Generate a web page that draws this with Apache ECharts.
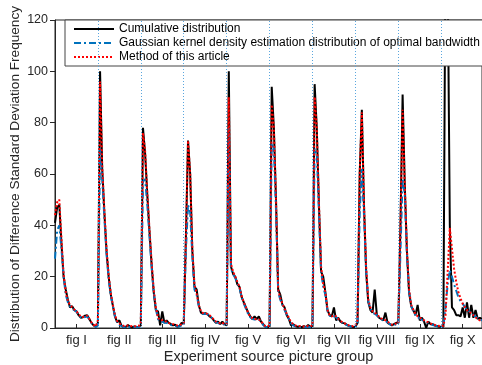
<!DOCTYPE html>
<html>
<head>
<meta charset="utf-8">
<script src="https://cdn.jsdelivr.net/npm/echarts@6/dist/echarts.min.js"></script>
<style>html,body{margin:0;padding:0;background:#fff}#c{width:482px;height:365px}</style>
</head>
<body>
<div id="c"></div>
<script>
var groupLabels = ['fig I','fig II','fig III','fig IV','fig V','fig VI','fig VII','fig VIII','fig IX','fig X'];
var pointsPerGroup = 20;
var yTicks = [0, 20, 40, 60, 80, 100, 120];
var seriesNames = ['Cumulative distribution','Gaussian kernel density estimation distribution of optimal bandwidth','Method of this article'];

var cumulative = [
  41,47,48,33,20,15,11,8,8.5,7,6.5,5,4,4.2,4.8,5,3.5,2,1,0.5,
  2,100,62,45,30,20,13,8.5,4.3,2.2,3,0.8,0.3,0.5,1.2,0.5,0.3,0.6,0.4,0.5,
  1,78,68,52,38,25,14,7,6.5,1,6.5,2,3,2,1.5,1,1.3,0.5,0.8,2,
  1.5,35,73,60,30,16,15,9,6,5.5,5.8,5.5,4.5,4,3,2,2.5,1.5,2.5,1.5,
  1,100,24,21,20,17,16,12,10,8,6,4.5,3.5,4.5,3.5,4.5,2.5,1.5,0.5,0.3,
  0.5,94,78,50,15,13,9,8,5,3.5,1,1.5,0.8,0.5,0.6,0.3,0.7,0.3,1.2,0.4,
  0.5,95,78,48,22,20,14,7,5,4.5,8,3,4,2.5,2,1.8,1.2,0.8,0.6,0.4,
  0.5,2,60,85,48,22,10,7,6,15,5,4,3.5,3,6,2,1.5,1,1.5,2,
  2,40,91,56,30,14,8.5,7,5,9,3,4,2.5,0,2.5,1.5,1.5,1,0.8,0.5,
  0.5,0.5,150,140,40,8,7,5,5,4.5,8,4,10,4,9,4,7,3.5,4,3.5
];
var gaussianKDE = [
  27,38,40,31,20,13,10,8.5,7.5,7,6.3,5.3,4.2,4,4.3,4.5,3.3,2,1,0.4,
  1,70,58,43,29,19,12.5,8.5,4.3,2.2,1.2,0.8,0.4,0.3,0.6,0.3,0.3,0.4,0.3,0.4,
  1,57,58,48,36,24,14,7.5,3.5,2.5,2.5,2,2,1.5,1.2,1,0.8,0.6,0.6,1,
  1,30,48,45,28,15,13,8.5,6,5.5,5.5,5.3,4.8,4,3,2.2,2,1.5,1.8,1.2,
  0.8,78,23,21,19.5,17.5,15.5,12,9.5,7.5,5.5,4.2,3.5,3.3,3.2,3.2,2.5,1.2,0.5,0.4,
  0.5,72,70,46,14,11,9,7,5.2,3.5,1.8,1,0.6,0.5,0.4,0.3,0.4,0.3,0.5,0.3,
  0.5,70,68,45,22,16,13,6.5,4.8,4.3,4.6,4.2,3.2,2.5,2,1.5,1.1,0.8,0.5,0.4,
  0.5,1.5,45,62,44,22,10.5,7.5,6,5.5,5,4.2,3.5,3,2.7,2.2,1.5,1,1,1.5,
  1.5,30,58,52,29,14,8.5,6.5,5,4.2,3.8,3.2,2.8,2.3,2,1.5,1.2,1,0.7,0.5,
  0.5,0.5,8,17,22.5,20,17,14.5,12,10.5,9.5,8.2,7,6.5,6,5,4.5,3.8,3.2,3
];
var methodArticle = [
  44,49,50,35,21,14,10.5,9,8,7.2,6.5,5.5,4.5,4.3,4.5,4.8,3.5,2.2,1.2,0.6,
  3,96,63,46,31,20.5,13.5,9,4.8,2.6,1.8,1.2,0.8,0.7,1,0.8,0.7,0.7,0.6,0.8,
  2,76,69,53,39,26,15,8,4,3,3,2.5,2.5,2,1.8,1.5,1.2,1,1,1.5,
  2,35,73,60,31,17,13.5,9,6.5,5.8,5.7,5.5,5,4.2,3.3,2.5,2.2,1.8,2,1.5,
  1.5,90,25,22,20,18,16,12.5,10,8,6,4.5,3.8,3.5,3.4,3.3,2.8,1.5,0.8,0.6,
  1,87,78,50,15,11.5,9.5,7.5,5.5,4,2.2,1.5,1,0.8,0.7,0.6,0.6,0.5,0.8,0.7,
  1,90,78,49,24,17,14,7,5,4.5,5,4.5,3.5,2.8,2.2,1.8,1.4,1,0.8,0.7,
  1,3,60,84,48,24,11,8,6.5,6,5.2,4.5,3.8,3.3,3,2.5,1.8,1.3,1.3,1.8,
  2,40,85,56,31,15,9,7,5.5,4.5,4,3.5,3,2.5,2.2,1.8,1.5,1.2,1,0.8,
  1,0.8,5,22,39,31,23,18,14,11.5,9.5,8.2,7,6.3,5.8,5,4.2,3.5,3,2.8
];

var categories = [];
for (var i = 0; i < cumulative.length; i++) categories.push(String(i));
var boundaries = [];
for (var g = 1; g < groupLabels.length; g++) boundaries.push({ xAxis: String(g * pointsPerGroup) });

var FONT = 'Liberation Sans, Arial, sans-serif';
var TXT = '#262626';
var half = pointsPerGroup / 2;

var chart = echarts.init(document.getElementById('c'), null, { renderer: 'canvas' });
chart.setOption({
  animation: false,
  backgroundColor: '#fff',
  textStyle: { fontFamily: FONT },
  grid: { left: 55, right: 0, top: 20, bottom: 37, containLabel: false, outerBoundsMode: 'none',
    show: true, borderColor: TXT, borderWidth: 1, backgroundColor: 'transparent' },
  legend: {
    orient: 'vertical', left: 65, top: 20,
    itemWidth: 40, itemHeight: 12, itemGap: 2,
    padding: [3, 5, 3, 8],
    backgroundColor: '#fff', borderColor: '#444', borderWidth: 1,
    itemStyle: { opacity: 0, borderWidth: 0 },
    textStyle: { fontFamily: FONT, fontSize: 12, color: '#000' },
    data: seriesNames
  },
  xAxis: {
    type: 'category', data: categories, boundaryGap: false,
    name: 'Experiment source picture group', nameLocation: 'middle', nameGap: 21, nameMoveOverlap: false,
    nameTextStyle: { fontFamily: FONT, fontSize: 14.5, color: TXT },
    axisLine: { lineStyle: { color: TXT, width: 1 } },
    axisTick: { inside: true, length: 4, lineStyle: { color: TXT },
      interval: function (idx) { return idx % pointsPerGroup === half; } },
    axisLabel: { fontFamily: FONT, fontSize: 13, color: TXT, margin: 6,
      interval: function (idx) { return idx % pointsPerGroup === half; },
      formatter: function (v, idx) { return groupLabels[Math.floor(idx / pointsPerGroup)] || ''; } },
    splitLine: { show: false }
  },
  yAxis: {
    type: 'value', min: yTicks[0], max: yTicks[yTicks.length - 1], interval: 20,
    name: 'Distribution of Difference Standard Deviation Frequency', nameLocation: 'middle', nameGap: 33, nameMoveOverlap: false,
    nameTextStyle: { fontFamily: FONT, fontSize: 13.6, color: TXT },
    axisLine: { show: true, lineStyle: { color: TXT, width: 1 } },
    axisTick: { show: true, inside: false, length: 5, lineStyle: { color: TXT } },
    axisLabel: { fontFamily: FONT, fontSize: 12.5, color: TXT, margin: 7 },
    splitLine: { show: false }
  },
  series: [
    {
      name: seriesNames[0], type: 'line', data: cumulative, symbol: 'none', clip: true,
      lineStyle: { color: '#000', width: 2 }, itemStyle: { color: '#000' }, z: 2
    },
    {
      name: seriesNames[1], type: 'line', data: gaussianKDE, symbol: 'none', clip: true,
      lineStyle: { color: '#0072BD', width: 2, type: [7, 3, 2, 3] }, itemStyle: { color: '#0072BD' }, z: 3,
      markLine: { silent: true, symbol: 'none', label: { show: false },
        lineStyle: { color: '#5aa6de', width: 1, type: [1, 2] }, data: boundaries }
    },
    {
      name: seriesNames[2], type: 'line', data: methodArticle, symbol: 'none', clip: true,
      lineStyle: { color: '#ff0000', width: 2, type: [2, 2] }, itemStyle: { color: '#ff0000' }, z: 4
    }
  ]
});
</script>
</body>
</html>
